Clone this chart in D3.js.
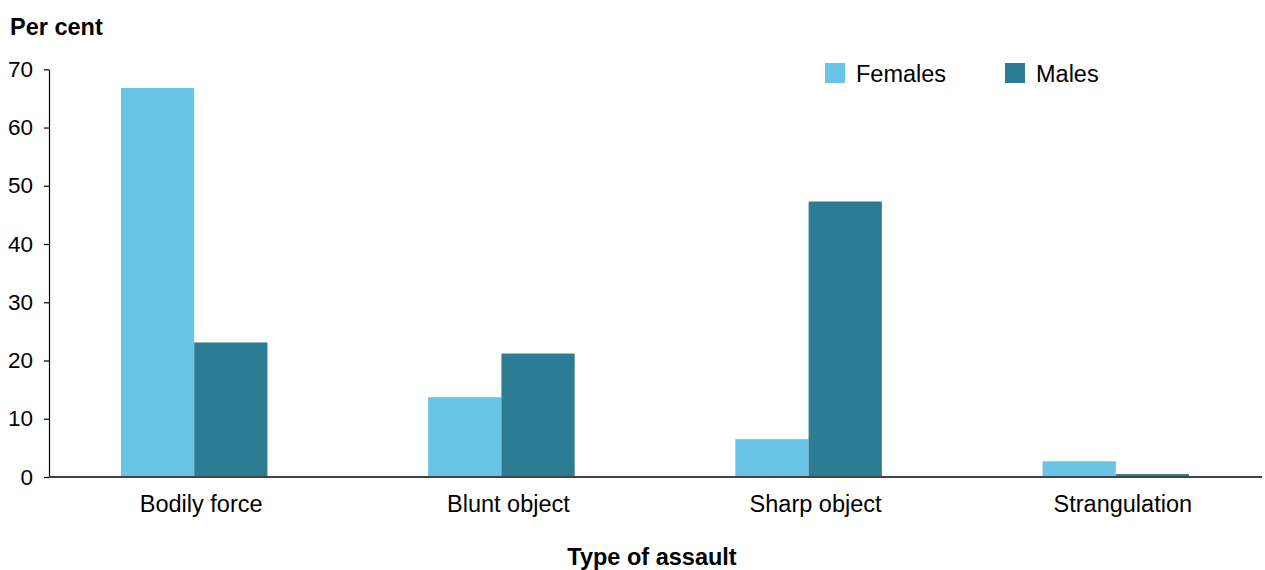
<!DOCTYPE html>
<html>
<head>
<meta charset="utf-8">
<script src="https://cdn.jsdelivr.net/npm/d3@7"></script>
<style>
  body { margin:0; background:white; }
  text { font-family: "Liberation Sans", Arial, sans-serif; fill:#000; }
</style>
</head>
<body>
<svg></svg>
<script>

var categories = ["Bodily force","Blunt object","Sharp object","Strangulation"];
var seriesNames = ["Females","Males"];
var females = [66.8, 13.7, 6.5, 2.7];
var males = [23.1, 21.2, 47.3, 0.5];
var yTicks = [0,10,20,30,40,50,60,70];

var colors = d3.scaleOrdinal()
  .domain(seriesNames)
  .range(["#68c5e6","#2c7c94"]);

var drawGraph = function()
{
  var screen = {width:1265, height:570};

  var svg = d3.select("svg")
    .attr("width",screen.width)
    .attr("height",screen.height);

  var axisLeft = 49, axisRight = 1262;
  var top = 69.3, bottom = 477;

  var yScale = d3.scaleLinear().domain([0,70]).range([bottom,top]);

  //groups are a bit wider than the drawn axis
  var xScale = d3.scaleBand()
    .domain(categories)
    .range([40.6,1269.4])
    .paddingInner(0.523)
    .paddingOuter(0.2615);

  var xInner = d3.scaleBand()
    .domain(seriesNames)
    .range([0,xScale.bandwidth()]);

  var rows = categories.map(function(c,i)
  {
    return {cat:c, values:[{name:"Females",v:females[i]},{name:"Males",v:males[i]}]};
  });

  //bars
  var groups = svg.append("g").classed("plot",true)
    .selectAll("g")
    .data(rows)
    .enter()
    .append("g")
    .attr("transform",function(d){ return "translate("+xScale(d.cat)+",0)"});

  groups.selectAll("rect")
    .data(function(d){ return d.values;})
    .enter()
    .append("rect")
    .attr("x",function(d){ return xInner(d.name)})
    .attr("width",xInner.bandwidth())
    .attr("y",function(d){ return yScale(d.v)})
    .attr("height",function(d){ return bottom-yScale(d.v)})
    .attr("fill",function(d){ return colors(d.name)});

  //y axis
  var yAxis = d3.axisLeft(yScale).tickValues(yTicks).tickSize(5).tickSizeOuter(0).tickPadding(11);
  var ya = svg.append("g").classed("yAxis",true)
    .attr("transform","translate("+axisLeft+",0)")
    .call(yAxis);
  ya.select(".domain").attr("stroke","#000").attr("stroke-width",1.2);
  ya.selectAll(".tick line").attr("stroke","#000").attr("stroke-width",1.2);
  ya.selectAll(".tick text")
    .style("font-family","'Liberation Sans', Arial, sans-serif")
    .style("font-size","22.5px")
    .attr("fill","#000");

  //baseline
  svg.append("line")
    .attr("x1",axisLeft).attr("x2",axisRight)
    .attr("y1",yScale(0)).attr("y2",yScale(0))
    .attr("stroke","#444")
    .attr("stroke-width",2);

  //category labels
  svg.append("g").classed("xLabels",true)
    .selectAll("text")
    .data(categories)
    .enter()
    .append("text")
    .attr("x",function(d){ return xScale(d)+xScale.bandwidth()/2+7})
    .attr("y",512)
    .attr("text-anchor","middle")
    .style("font-size","23.5px")
    .text(function(d){ return d});

  //titles
  svg.append("text")
    .attr("x",10).attr("y",35)
    .style("font-size","23.5px")
    .style("font-weight","bold")
    .text("Per cent");

  svg.append("text")
    .attr("x",652).attr("y",565)
    .attr("text-anchor","middle")
    .style("font-size","23.5px")
    .style("font-weight","bold")
    .text("Type of assault");

  //legend
  var legendX = [825,1005];
  var legendLines = svg.append("g").classed("legend",true)
    .selectAll("g")
    .data(seriesNames)
    .enter()
    .append("g")
    .attr("transform",function(d,i){ return "translate("+legendX[i]+",63)"});

  legendLines.append("rect")
    .attr("width",20)
    .attr("height",20)
    .attr("fill",function(d){ return colors(d)});

  legendLines.append("text")
    .attr("x",31)
    .attr("y",18.5)
    .style("font-size","23.5px")
    .text(function(d){ return d});
}

drawGraph();
</script>
</body>
</html>
